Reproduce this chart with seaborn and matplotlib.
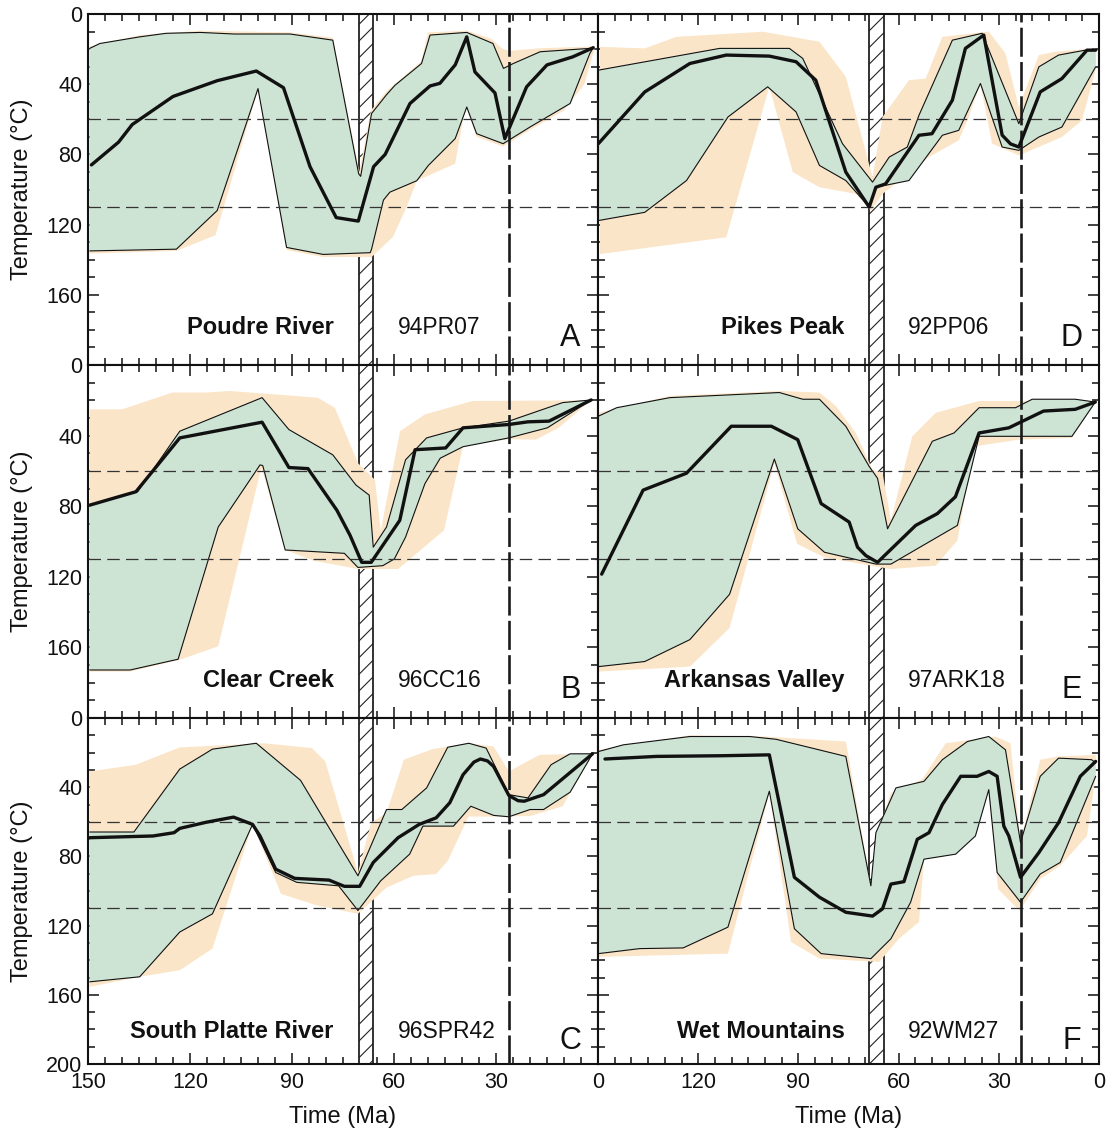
import numpy as np
import pandas as pd
import matplotlib
matplotlib.use("Agg")
import matplotlib.pyplot as plt
from matplotlib.ticker import MultipleLocator
import seaborn as sns

# ---------------- data (time Ma, temperature degC) ----------------
A_path = [(149, 86), (141, 73), (137, 63), (125, 47), (112, 38), (100.5, 32.5), (92.5, 42), (84.7, 87),
          (77, 116), (70.5, 118), (66, 87), (62.6, 80), (55.3, 51), (49.4, 41), (46.5, 39.5), (42, 29),
          (38.6, 13), (36.2, 33), (30.3, 45), (27.4, 71), (21, 41.5), (15, 29), (7.4, 24.4), (1.4, 19.2)]
A_green_top = [(149.5, 19.6), (146.5, 16.8), (134.7, 13), (127, 11), (117, 10.5), (107, 11.4), (90.6, 11.4),
               (78, 14.9), (70.4, 91), (69.8, 92.5), (66.6, 56.7), (62.2, 46), (59.7, 40.6), (51.9, 28.2),
               (49.4, 12), (38.6, 10.5), (30.9, 16.8), (27.8, 31), (24.9, 28.2), (17, 21.5), (2.4, 19.6),
               (1.4, 19.2)]
A_green_bot = [(149.5, 135), (124, 134), (112, 112), (100, 42.5), (91.6, 133), (80.8, 137), (67, 136),
               (66.6, 134), (63.1, 106), (61.2, 101.5), (53.3, 95), (49.9, 86.3), (42, 71), (38.6, 53),
               (35.7, 68.2), (27.9, 73.9), (20, 64.4), (8.2, 51), (2.4, 22.5), (1.4, 19.2)]
A_orange_top = [(149.5, 18.5), (134.7, 12), (117, 9.5), (90.6, 10.5), (78, 13.5), (70.2, 90), (66.8, 55),
                (62.2, 44), (52, 27), (50, 10.5), (38.6, 9.5), (31.5, 14), (28, 20), (26, 21), (17, 19.5),
                (1, 18.5)]
A_orange_bot = [(149.5, 136.5), (124, 135), (112.5, 126), (100, 43), (91.6, 134.5), (80.8, 138.5),
                (66.6, 138.5), (60.3, 127), (56.3, 110), (53.3, 95), (42, 85.3), (39.5, 58), (38.6, 54),
                (35.7, 70), (27.9, 75.5), (20, 66), (10, 55), (4, 40), (1, 19.5)]

B_path = [(149.5, 79.4), (135.9, 71.8), (123, 41.3), (98.8, 32.4), (90.9, 58.1), (85.3, 58.7), (76.8, 82.3),
          (72.9, 96.6), (69.5, 111.8), (66.7, 111.8), (58.3, 88), (53.8, 48), (44.8, 47), (39.7, 35.6),
          (26.2, 33.7), (20.6, 32.2), (14.4, 31.8), (2, 19.8)]
B_green_top = [(149.5, 79.4), (135.4, 71.8), (123, 37.5), (98.8, 18.5), (90.9, 36.6), (78, 50.9), (71.2, 68),
               (67.3, 73.7), (66.1, 103.2), (62.2, 91.8), (56.6, 53.7), (50.4, 41.3), (39.7, 35.6),
               (26.2, 31.8), (10.4, 21.3), (2, 19.8)]
B_green_bot = [(149.5, 172.8), (137.6, 172.8), (123.5, 166.7), (111.7, 91.8), (99.4, 56.6), (98.6, 57),
               (92, 104.8), (74.6, 106.7), (70.6, 114.7), (63.3, 113.7), (59.9, 109.9), (56.6, 97.5),
               (50.9, 67.2), (46.4, 52.8), (39.7, 46.3), (26.2, 41.3), (14.9, 35.6), (2, 19.8)]
B_orange_top = [(149.5, 25.1), (139.9, 25.1), (125.2, 15.6), (115.1, 15.6), (108.4, 14.7), (82.5, 18.5),
                (77.4, 24.2), (70.6, 55.6), (65.6, 65.1), (63.9, 93.7), (58.2, 37.5), (50.9, 28),
                (36.9, 20.4), (2, 20)]
B_orange_bot = [(149.5, 173.7), (137.6, 173.7), (123, 167), (111.7, 159.4), (99, 58), (92, 104.8),
                (83.6, 110.9), (70.6, 115.6), (58.8, 115.6), (45.3, 93.7), (39.7, 46), (26.2, 42),
                (18.3, 42.3), (11.6, 35.6), (2, 20)]

C_path = [(149.5, 69.2), (130.9, 68.2), (124.7, 66.3), (123, 63.8), (115.1, 60.2), (107.2, 57.3),
          (101.6, 61.5), (99.4, 68.2), (94.8, 87.4), (89.2, 92.7), (79.1, 93.7), (74.6, 97.3), (70.1, 97.3),
          (66.1, 83.5), (58.8, 69.2), (52.6, 61.5), (47.6, 57.7), (43.6, 49), (39.7, 32.8), (36.5, 25.5),
          (34.6, 23.7), (32.5, 24.8), (30.7, 28), (26.2, 44.8), (23.5, 47.8), (21.7, 48.1), (16, 44.3),
          (1.6, 20.7)]
C_green_top = [(149.5, 65.9), (136.5, 65.9), (123, 29.5), (113.4, 18), (100.5, 14.6), (87.5, 36),
               (70.6, 91.2), (62.2, 52.9), (57.7, 52.9), (50.4, 40.4), (44.2, 16.9), (38, 14.6), (32.9, 17.4),
               (26.2, 44.3), (20.6, 46.2), (13.8, 27), (8.2, 20.7), (1.6, 20.7)]
C_green_bot = [(149.5, 152.5), (134.8, 149.6), (123, 123.7), (113.4, 113.2), (101.6, 61.5), (94.8, 89.3),
               (88.6, 95), (76.3, 97), (70.6, 111.3), (63.9, 94.1), (55.4, 78.7), (51.5, 62.5), (42.5, 62.5),
               (37.4, 51), (30.7, 56.3), (26.2, 57.1), (20, 52.9), (16, 52.9), (8.2, 42.9), (1.6, 20.7)]
C_orange_top = [(149.5, 30.9), (135.9, 27), (123, 17), (98.2, 14.6), (84.1, 17.4), (80.2, 25.1),
                (70.6, 89.3), (66.7, 60.5), (62.2, 54.8), (57.1, 24.1), (48.7, 18), (38, 14.6), (30.7, 16.5),
                (26.2, 30.9), (17.2, 21.3), (1.6, 20.7)]
C_orange_bot = [(149.5, 155.4), (134.8, 149.6), (123, 145.8), (113.4, 133.3), (101.6, 61.5), (93.2, 101.7),
                (82.5, 108.4), (70.6, 113.2), (62.2, 98), (54.3, 91.2), (47.6, 90.2), (44.2, 82.6), (38.1, 57),
                (30, 57), (20, 56.7), (10.4, 51), (1.6, 20.7)]

D_path = [(149.9, 73.9), (136, 44.4), (122.5, 28.2), (111.6, 23.4), (98.7, 24), (90.7, 27.2), (84.8, 37.7),
          (75.8, 90.1), (68.8, 110), (66.8, 98.7), (63.9, 96.8), (53.9, 69.1), (50, 68.2), (43.9, 49.1),
          (40, 19.6), (34.5, 12), (29, 69), (26.5, 74), (24, 75.8), (17.6, 44.4), (11.1, 36.8), (3.6, 20.6),
          (1, 20.6)]
D_green_top = [(149.9, 32), (113.6, 19.6), (92.7, 19.6), (88.7, 25.3), (76.8, 73.9), (67.8, 95.8),
               (62.8, 81.5), (57.4, 75.8), (53.9, 57.7), (43.9, 14.9), (35, 11), (24, 62.5), (18, 30.1),
               (12.1, 23.4), (4.1, 20.6), (1, 20.6)]
D_green_bot = [(149.9, 117.7), (136, 113), (123.5, 94.9), (111.1, 58.7), (99.2, 41.5), (90.7, 55.8),
               (83.7, 86.3), (75.8, 94.9), (68.8, 110), (66.8, 98.7), (56.9, 94.9), (46.9, 69.1), (42, 66.3),
               (35.5, 39.6), (29, 75.8), (24, 77.7), (18, 70.1), (11.1, 64.4), (1, 30.1)]
D_orange_top = [(149.4, 18.7), (136, 19.6), (126.5, 13), (100.6, 10.1), (83.7, 15.8), (75.8, 35.8),
                (67.8, 93), (64.8, 58.7), (56.9, 37.7), (51.9, 36.8), (46.9, 13), (33, 10), (28, 22.5),
                (24, 53), (18, 23.4), (13.1, 21.5), (1, 19.6)]
D_orange_bot = [(149.4, 136.8), (111.6, 127.2), (98.7, 41.5), (91.7, 90.1), (83.7, 98.7), (72.8, 102.5),
                (68.3, 112), (64.8, 102.5), (50.9, 81.5), (42, 72), (39, 58.7), (35.5, 40), (32, 73.9),
                (24, 80.6), (11.1, 70.1), (5.1, 60.6), (1, 32)]

E_path = [(148.9, 118.5), (136.5, 70.9), (123.5, 61.3), (110.1, 34.7), (98.1, 34.7), (90.2, 42.3),
          (83.2, 78.5), (74.8, 89), (72.3, 103.2), (69.8, 108), (66.3, 111.8), (54.9, 90.9), (48.4, 84.2),
          (43, 74.7), (35.9, 38.5), (27, 35.6), (16.6, 26.1), (7.1, 25.1), (1.1, 21)]
E_green_top = [(149.9, 29), (144.4, 24.2), (128.5, 18.5), (95.7, 15.6), (88.7, 19.4), (83.7, 19.4),
               (75.8, 34.7), (68.8, 57.5), (66.3, 64.2), (63.3, 92.8), (49.9, 43.2), (43.4, 38.5),
               (35.9, 24.2), (25, 24.2), (20, 19.4), (7.1, 19.4), (1.1, 21)]
E_green_bot = [(149.9, 170.9), (136, 168), (122.5, 155.6), (110.6, 129.9), (97.2, 53.3), (90.2, 92.8),
               (82.2, 106.1), (66.8, 112.8), (62.3, 112.8), (42.4, 90.9), (35.9, 40.4), (24, 40.4),
               (8.1, 40.4), (1.1, 21)]
E_orange_top = [(149.9, 27.1), (128.5, 17.5), (95.7, 14.7), (83.7, 15.6), (78.8, 23.2), (72.8, 38.5),
                (67.8, 59.4), (64.8, 61.3), (62.3, 88), (55.9, 40.4), (48.9, 27.1), (35.9, 20.4), (1.1, 20.4)]
E_orange_bot = [(149.9, 173.7), (122.5, 170.9), (110.6, 149), (97.2, 55.6), (90.4, 101.3), (82.2, 109),
                (62.5, 115.6), (48.9, 113.7), (42.4, 99.4), (37.4, 46.1), (24, 42.3), (8.1, 41.3), (1.1, 21.3)]

F_path = [(147.9, 23.7), (132.5, 22.2), (112.6, 21.8), (98.7, 21.3), (91.2, 92.1), (83.7, 103.6),
          (75.8, 112.3), (67.8, 114.5), (64.8, 110.3), (62.3, 96), (58.4, 94.6), (54.4, 70.1), (50.9, 66.3),
          (46.9, 50), (41.4, 33.7), (36.5, 33.7), (33, 30.9), (30.5, 33.7), (28.5, 62.5), (27, 68.2),
          (23.5, 92.1), (18, 77.8), (12.1, 60.5), (5.6, 33.7), (1, 25.1)]
F_green_top = [(149.9, 19.4), (142.4, 15.5), (122.5, 10.7), (104.6, 10.7), (96.7, 12.3), (75.8, 22.2),
               (68.3, 97), (66.8, 66.3), (60.8, 40.4), (52.4, 36.6), (46.9, 24.1), (39.4, 13.6), (33, 10.7),
               (28, 18.4), (23.5, 72), (17.6, 33.7), (12.1, 23.2), (2.2, 24.1), (1, 26)]
F_green_bot = [(149.9, 136.2), (137.5, 133.3), (124.5, 132.9), (111.1, 120.9), (98.7, 42.3), (91.2, 121.8),
               (83.2, 136.2), (68.3, 139.1), (62.3, 127.6), (56.4, 106.5), (52.4, 81.6), (42.9, 78.7),
               (37, 68.2), (33, 41.4), (30.5, 89.3), (23.5, 106.5), (17.6, 90.2), (11.6, 83.5), (1, 33.7)]
F_orange_top = [(149.9, 18.4), (122.5, 10), (100, 10.7), (75.8, 13.6), (75, 22), (68.3, 97), (65.8, 63.4),
                (62.3, 43.3), (53, 35.6), (45.9, 14.6), (31, 10.7), (26.5, 14.6), (23.5, 72), (17.6, 24.1),
                (12, 22.2), (1, 21.3)]
F_orange_bot = [(149.9, 138.1), (111.1, 136.2), (98.7, 43.3), (92.2, 129.5), (83.7, 139.1), (65.8, 141),
                (59.9, 127.6), (53.9, 117.9), (52.4, 81.6), (40, 74), (33, 42.3), (30.2, 98.9), (23.8, 111.3),
                (17.6, 93.1), (11.6, 85.4), (3.6, 68.2), (1, 33.7)]

site_names = ["Poudre River", "Clear Creek", "South Platte River", "Pikes Peak", "Arkansas Valley", "Wet Mountains"]
sample_ids = ["94PR07", "96CC16", "96SPR42", "92PP06", "97ARK18", "92WM27"]
panel_letters = ["A", "B", "C", "D", "E", "F"]
paz_temps = [60, 110]                       # horizontal dashed lines
hatch_band = {"left": (70.3, 66.2), "right": (68.8, 64.5)}
event_time = {"left": 26.2, "right": 23.3}

panels = {
    "A": (A_path, A_green_top, A_green_bot, A_orange_top, A_orange_bot),
    "B": (B_path, B_green_top, B_green_bot, B_orange_top, B_orange_bot),
    "C": (C_path, C_green_top, C_green_bot, C_orange_top, C_orange_bot),
    "D": (D_path, D_green_top, D_green_bot, D_orange_top, D_orange_bot),
    "E": (E_path, E_green_top, E_green_bot, E_orange_top, E_orange_bot),
    "F": (F_path, F_green_top, F_green_bot, F_orange_top, F_orange_bot),
}

# ---------------- style ----------------
sns.set_theme(style="ticks")
plt.rcParams["font.family"] = ["Liberation Sans", "DejaVu Sans"]
plt.rcParams["hatch.linewidth"] = 0.8
plt.rcParams["hatch.color"] = "#222222"

GREEN = "#CDE3D4"
ORANGE = "#FBE5C8"
INK = "#111111"

W, H = 1106, 1131
fig = plt.figure(figsize=(W / 100, H / 100), dpi=100)

col_px = {"left": (88, 598), "right": (598, 1099)}
row_px = [(14, 365), (365, 718), (718, 1064)]
text_base = [(0.088, 0.054), (0.089, 0.057), (0.075, 0.042)]

layout = [("A", "left", 0), ("B", "left", 1), ("C", "left", 2),
          ("D", "right", 0), ("E", "right", 1), ("F", "right", 2)]


def poly(top, bot):
    tt = [p[0] for p in top] + [p[0] for p in bot[::-1]]
    TT = [p[1] for p in top] + [p[1] for p in bot[::-1]]
    return tt, TT


for key, col, row in layout:
    x0, x1 = col_px[col]
    y0, y1 = row_px[row]
    ax = fig.add_axes([x0 / W, 1 - y1 / H, (x1 - x0) / W, (y1 - y0) / H])
    path, gtop, gbot, otop, obot = panels[key]

    # hatched band
    b1, b2 = hatch_band[col]
    ax.axvspan(b1, b2, facecolor="white", edgecolor="#222222", hatch="//", lw=1.3, zorder=1)

    # envelopes
    ot, oT = poly(otop, obot)
    ax.fill(ot, oT, color=ORANGE, lw=0, zorder=2)
    gt, gT = poly(gtop, gbot)
    ax.fill(gt, gT, color=GREEN, lw=0, zorder=2.5)
    for edge in (gtop, gbot):
        sns.lineplot(x=[p[0] for p in edge], y=[p[1] for p in edge], ax=ax, sort=False,
                     estimator=None, color=INK, lw=0.8, zorder=3)

    # reference lines
    for temp in paz_temps:
        ax.axhline(temp, color="#333333", lw=0.9, ls=(0, (10, 5)), zorder=4)
    ax.axvline(event_time[col], color="#1a1a1a", lw=1.9, ls=(0, (11, 2)), zorder=4)

    # best-fit path
    sns.lineplot(x=[p[0] for p in path], y=[p[1] for p in path], ax=ax, sort=False,
                 estimator=None, color=INK, lw=2.4, zorder=5)

    ax.set_xlim(150, 0)
    ax.set_ylim(200, 0)
    ax.xaxis.set_major_locator(MultipleLocator(30))
    ax.xaxis.set_minor_locator(MultipleLocator(5))
    ax.set_yticks([0, 40, 80, 120, 160, 200])
    ax.yaxis.set_minor_locator(MultipleLocator(10))
    ax.tick_params(which="both", direction="in", top=True, right=True, width=1.1, color=INK,
                   labelsize=15.5, labelcolor=INK)
    ax.tick_params(which="major", length=8)
    ax.tick_params(which="minor", length=5)
    ax.tick_params(axis="x", pad=6)
    ax.tick_params(axis="y", pad=4)
    for s in ax.spines.values():
        s.set_linewidth(1.5)
        s.set_color(INK)

    if col == "left":
        if row < 2:
            ax.set_yticklabels(["0", "40", "80", "120", "160", ""])
        else:
            ax.set_yticklabels(["0", "40", "80", "120", "160", "200"])
        ax.set_ylabel("Temperature (°C)", fontsize=17, color=INK)
        ax.yaxis.set_label_coords(-0.107, 0.5)
    else:
        ax.set_yticklabels([])
        ax.set_ylabel("")

    if row == 2:
        ax.set_xticks([150, 120, 90, 60, 30, 0])
        if col == "left":
            ax.set_xticklabels(["150", "120", "90", "60", "30", "0"])
        else:
            ax.set_xticklabels(["", "120", "90", "60", "30", "0"])
        ax.set_xlabel("Time (Ma)", fontsize=17, color=INK)
        ax.xaxis.set_label_coords(0.5, -0.12)
    else:
        ax.set_xticklabels([])
        ax.set_xlabel("")

    idx = panel_letters.index(key)
    nb, lb = text_base[row]
    name_x = 0.482 if col == "left" else 0.492
    id_x = 0.608 if col == "left" else 0.618
    ax.text(name_x, nb, site_names[idx], transform=ax.transAxes, ha="right", va="baseline",
            fontsize=17, fontweight="bold", color=INK, zorder=6)
    ax.text(id_x, nb, sample_ids[idx], transform=ax.transAxes, ha="left", va="baseline",
            fontsize=16.5, color=INK, zorder=6)
    ax.text(0.946, lb, panel_letters[idx], transform=ax.transAxes, ha="center", va="baseline",
            fontsize=22, color=INK, zorder=6)

fig.savefig("out.png", dpi=100)
